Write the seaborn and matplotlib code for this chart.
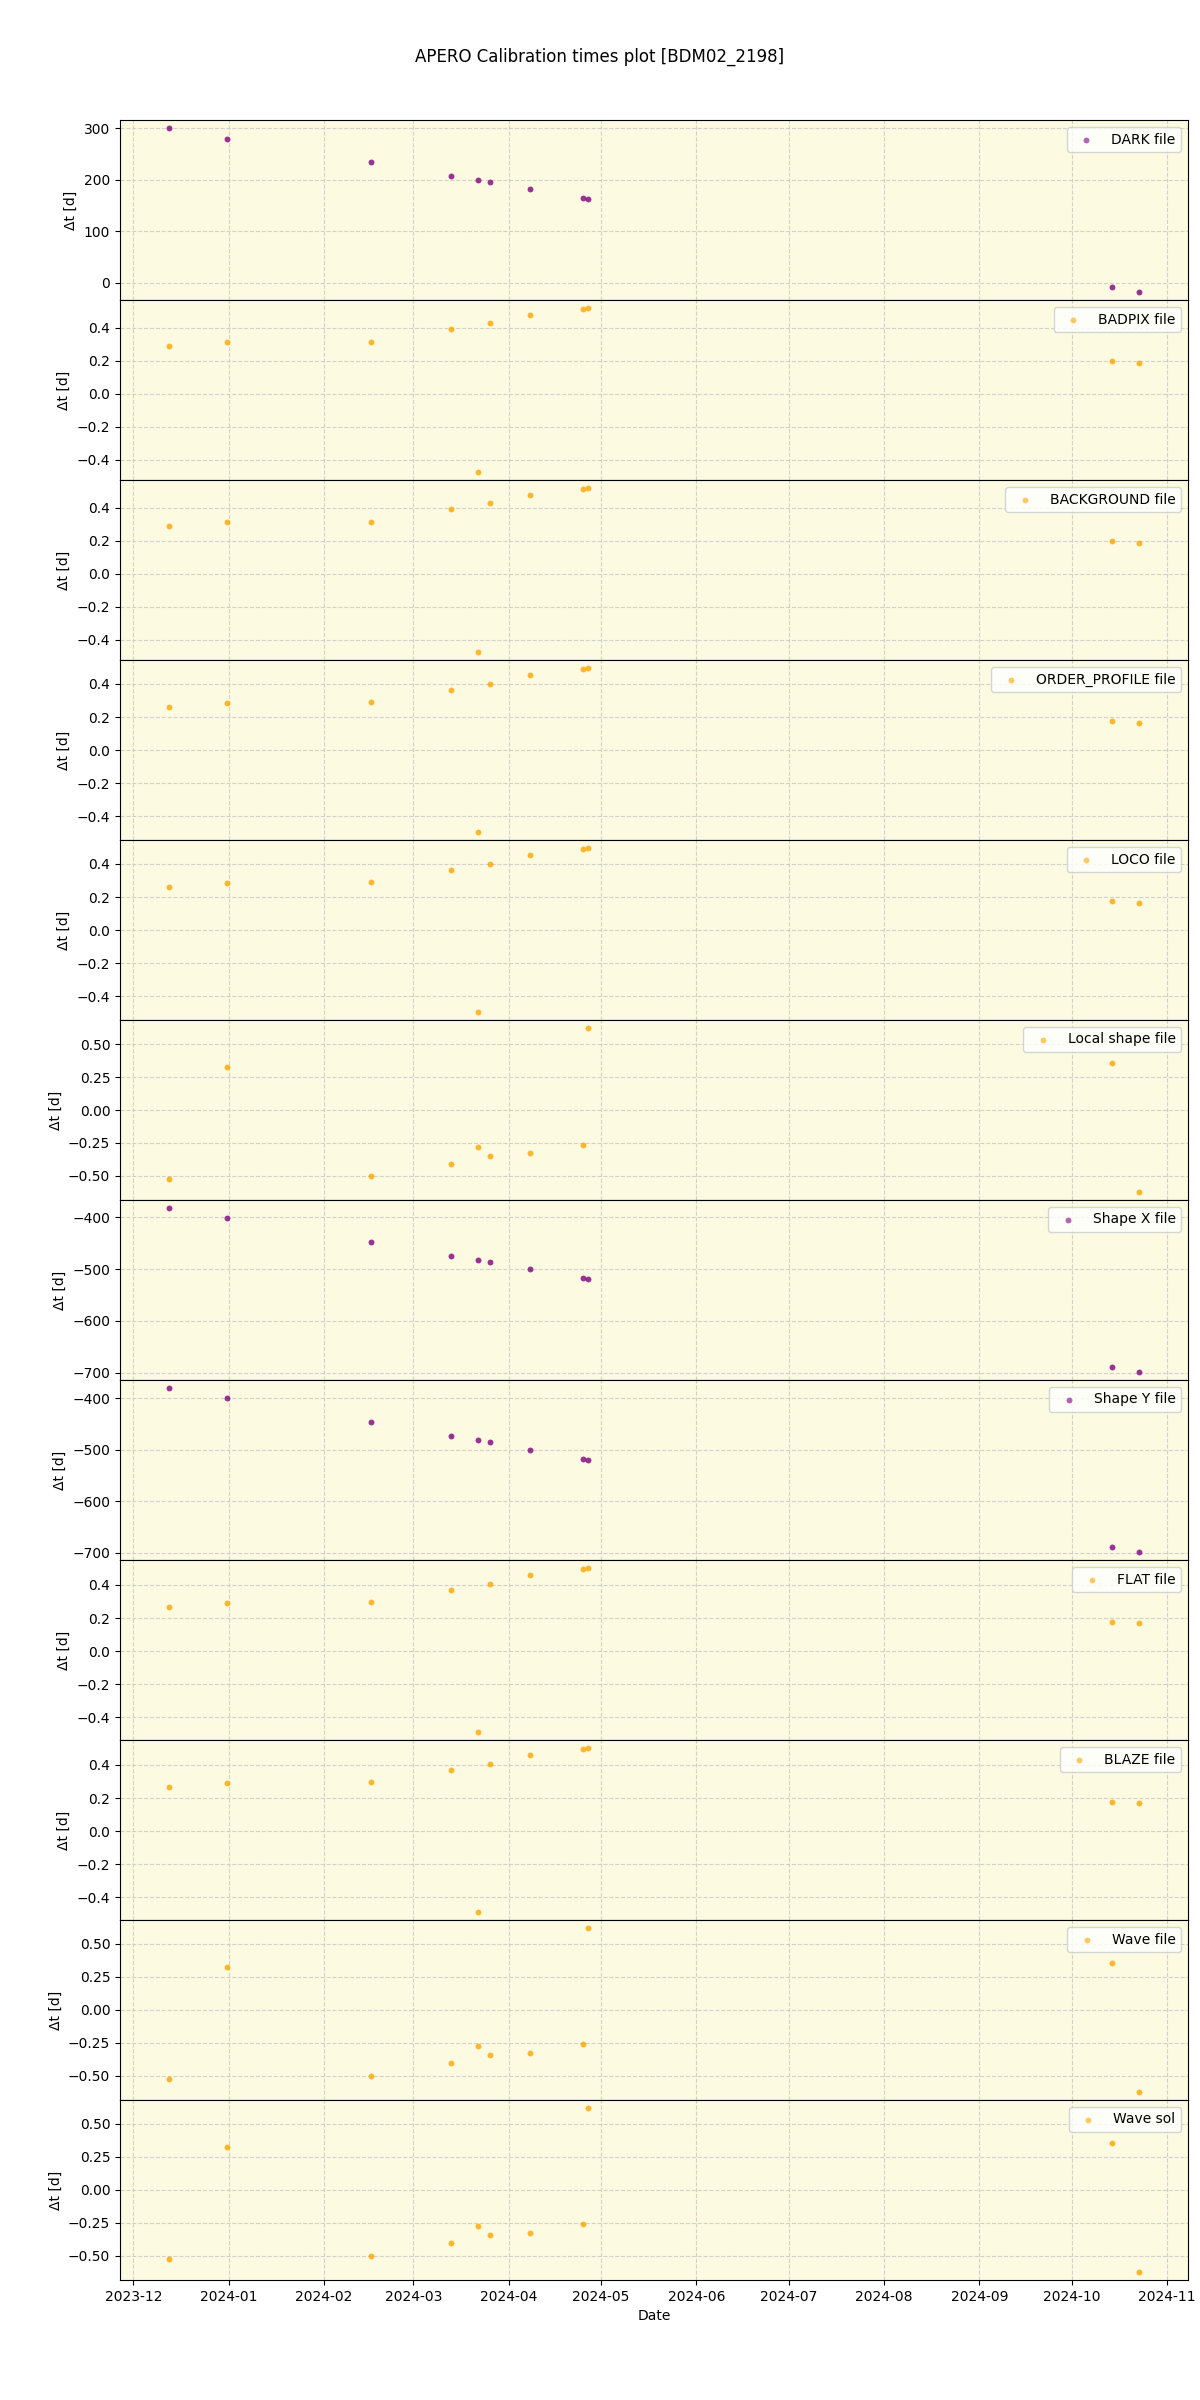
import matplotlib
matplotlib.use("Agg")
import matplotlib.pyplot as plt
import seaborn as sns
import pandas as pd
import numpy as np

obs_dates = pd.to_datetime([
    "2023-12-12 10:00", "2023-12-31 10:00", "2024-02-16 05:00", "2024-03-13 07:00",
    "2024-03-22 00:00", "2024-03-26 00:00", "2024-04-07 22:00", "2024-04-25 02:00",
    "2024-04-26 19:00", "2024-10-14 00:00", "2024-10-23 00:00",
])

panel_labels = ["DARK file", "BADPIX file", "BACKGROUND file", "ORDER_PROFILE file",
                "LOCO file", "Local shape file", "Shape X file", "Shape Y file",
                "FLAT file", "BLAZE file", "Wave file", "Wave sol"]

dark = [299.7, 279.4, 233.7, 206.7, 198.9, 195.0, 181.5, 164.0, 162.3, -7.7, -17.4]
badpix = [0.288, 0.312, 0.318, 0.392, -0.472, 0.428, 0.478, 0.514, 0.520, 0.198, 0.190]
background = [0.288, 0.312, 0.318, 0.392, -0.472, 0.428, 0.478, 0.514, 0.520, 0.198, 0.190]
order_profile = [0.263, 0.287, 0.293, 0.366, -0.493, 0.402, 0.453, 0.489, 0.495, 0.174, 0.166]
loco = [0.263, 0.287, 0.293, 0.366, -0.493, 0.402, 0.453, 0.489, 0.495, 0.174, 0.166]
local_shape = [-0.523, 0.323, -0.498, -0.407, -0.277, -0.346, -0.323, -0.262, 0.620, 0.356, -0.620]
shape_x = [-382.7, -401.9, -448.0, -475.0, -482.7, -486.5, -500.0, -517.3, -519.2, -688.5, -698.0]
shape_y = [-380.6, -400.0, -446.5, -473.5, -481.3, -485.2, -500.0, -517.4, -519.4, -688.4, -698.0]
flat = [0.269, 0.293, 0.299, 0.372, -0.487, 0.408, 0.459, 0.495, 0.501, 0.178, 0.172]
blaze = [0.269, 0.293, 0.299, 0.372, -0.487, 0.408, 0.459, 0.495, 0.501, 0.178, 0.172]
wave_file = [-0.525, 0.320, -0.500, -0.408, -0.278, -0.347, -0.325, -0.263, 0.618, 0.353, -0.623]
wave_sol = [-0.525, 0.320, -0.500, -0.408, -0.278, -0.347, -0.325, -0.263, 0.618, 0.353, -0.623]

series = [dark, badpix, background, order_profile, loco, local_shape,
          shape_x, shape_y, flat, blaze, wave_file, wave_sol]
panel_colors = ["purple", "orange", "orange", "orange", "orange", "orange",
                "purple", "purple", "orange", "orange", "orange", "orange"]

fig, axes = plt.subplots(12, 1, figsize=(12, 24), dpi=100, sharex=True)
fig.subplots_adjust(left=0.1, right=0.99, top=0.95, bottom=0.05, hspace=0)

for ax, lab, vals, col in zip(axes, panel_labels, series, panel_colors):
    df = pd.DataFrame({"date": obs_dates, "dt": vals})
    ax.set_facecolor("#fcfbe1")
    sns.scatterplot(data=df, x="date", y="dt", ax=ax, color=col, s=18,
                    linewidth=0, alpha=0.8, label=lab, zorder=3)
    ax.grid(True, linestyle="--", color="#c8c8c8", alpha=0.8, zorder=0)
    ax.set_axisbelow(True)
    ax.set_ylabel("Δt [d]")
    ax.set_xlabel("")
    leg = ax.legend(loc="upper right")
    for h in leg.legend_handles:
        h.set_alpha(0.6)

axes[-1].set_xlabel("Date")
fig.suptitle("APERO Calibration times plot [BDM02_2198]", y=0.98)
fig.savefig("out.png", dpi=100)
